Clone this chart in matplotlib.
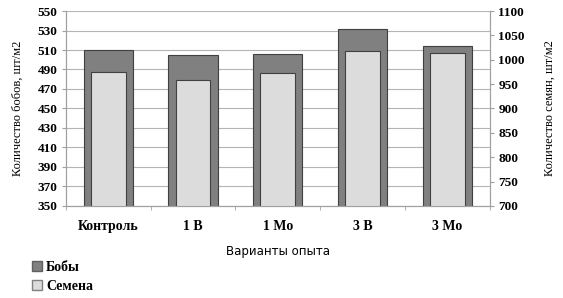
import matplotlib.pyplot as plt
import numpy as np
from matplotlib.patches import Patch

variants = ['Контроль', '1 В', '1 Мо', '3 В', '3 Мо']
beans = [510, 505, 506, 532, 514]       # left axis, шт/м2
seeds = [975, 958, 973, 1018, 1013]     # right axis, шт/м2

plt.rcParams['font.family'] = ['Liberation Serif', 'DejaVu Serif']

fig = plt.figure(figsize=(5.63, 2.98), dpi=100)
ax = fig.add_axes([0.117, 0.309, 0.753, 0.654])
ax2 = ax.twinx()

x = np.arange(len(variants))
ax.bar(x, beans, width=0.58, color='#808080', edgecolor='#404040', linewidth=0.8, zorder=2)
ax2.bar(x, seeds, width=0.41, color='#dcdcdc', edgecolor='#404040', linewidth=0.8, zorder=2)

ax.set_ylim(350, 550)
ax.set_yticks(np.arange(350, 551, 20))
ax2.set_ylim(700, 1100)
ax2.set_yticks(np.arange(700, 1101, 50))
ax.set_xlim(-0.5, len(variants) - 0.5)

ax.yaxis.grid(True, color='#b4b4b4', linewidth=0.8, zorder=0)
ax.set_axisbelow(True)

ax.set_xticks(x)
ax.set_xticklabels(variants, fontsize=10, fontweight='bold')
ax.set_xticks(np.arange(-0.5, len(variants)), minor=True)
ax.tick_params(axis='x', which='major', length=0, pad=10)
ax.tick_params(axis='x', which='minor', length=3, color='#a0a0a0')
ax.tick_params(axis='y', length=3, color='#a0a0a0', labelsize=9.5, pad=3)
ax2.tick_params(axis='y', length=3, color='#a0a0a0', labelsize=9.5, pad=3)
for lbl in ax.get_yticklabels() + ax2.get_yticklabels():
    lbl.set_fontweight('bold')

for a in (ax, ax2):
    a.spines['top'].set_visible(False)
    for s in ('left', 'right', 'bottom'):
        a.spines[s].set_color('#a0a0a0')

ax.set_ylabel('Количество бобов, шт/м2', fontsize=9, labelpad=10)
ax2.set_ylabel('Количество семян, шт/м2', fontsize=9, labelpad=14)
ax.set_xlabel('Варианты опыта', fontsize=8.5, family='DejaVu Sans', labelpad=9)

handles = [Patch(facecolor='#808080', edgecolor='#606060'),
           Patch(facecolor='#dcdcdc', edgecolor='#808080')]
fig.legend(handles, ['Бобы', 'Семена'], loc='lower left', bbox_to_anchor=(0.035, -0.025),
           frameon=False, prop={'size': 10, 'weight': 'bold'},
           handlelength=0.7, handleheight=0.7, handletextpad=0.3, labelspacing=0.45)

fig.savefig('out.png', dpi=100)
